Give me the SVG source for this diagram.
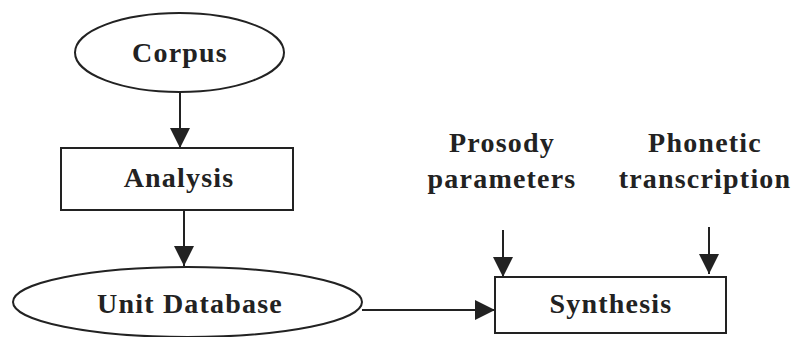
<svg xmlns="http://www.w3.org/2000/svg" width="795" height="337" viewBox="0 0 795 337">
<defs>
<style>
.shape{fill:#fff;stroke:#222;stroke-width:2}
.edge{fill:none;stroke:#222;stroke-width:2}
.lbl{font-family:"Liberation Serif","Times New Roman",serif;font-weight:bold;font-size:28px;fill:#222;text-anchor:middle;letter-spacing:1.2px}
</style>
<marker id="ah" markerUnits="userSpaceOnUse" markerWidth="20" markerHeight="20" viewBox="0 0 20 20" refX="20" refY="10" orient="auto">
<path d="M0,0 L20,10 L0,20 Z" fill="#222"/>
</marker>
</defs>
<rect width="795" height="337" fill="#fff"/>
<g id="edges">
<line class="edge" x1="180" y1="92" x2="180" y2="148" marker-end="url(#ah)"/>
<line class="edge" x1="184" y1="210" x2="184" y2="266" marker-end="url(#ah)"/>
<line class="edge" x1="362" y1="310" x2="495" y2="310" marker-end="url(#ah)"/>
<line class="edge" x1="503" y1="230" x2="503" y2="277" marker-end="url(#ah)"/>
<line class="edge" x1="709" y1="227" x2="709" y2="274" marker-end="url(#ah)"/>
</g>
<g id="corpus">
<ellipse class="shape" cx="179.5" cy="52.5" rx="104.5" ry="39.5"/>
<text class="lbl" x="180" y="62">Corpus</text>
</g>
<g id="analysis">
<rect class="shape" x="61" y="148" width="232" height="62"/>
<text class="lbl" x="179" y="187">Analysis</text>
</g>
<g id="unitdb">
<ellipse class="shape" cx="187.5" cy="302" rx="174.5" ry="35"/>
<text class="lbl" x="190" y="313">Unit Database</text>
</g>
<g id="synthesis">
<rect class="shape" x="495" y="277" width="231" height="56"/>
<text class="lbl" x="611" y="313">Synthesis</text>
</g>
<g id="prosody">
<text class="lbl" x="502" y="152">Prosody</text>
<text class="lbl" x="502" y="188">parameters</text>
</g>
<g id="phonetic">
<text class="lbl" x="705" y="152">Phonetic</text>
<text class="lbl" x="705" y="188">transcription</text>
</g>
</svg>
